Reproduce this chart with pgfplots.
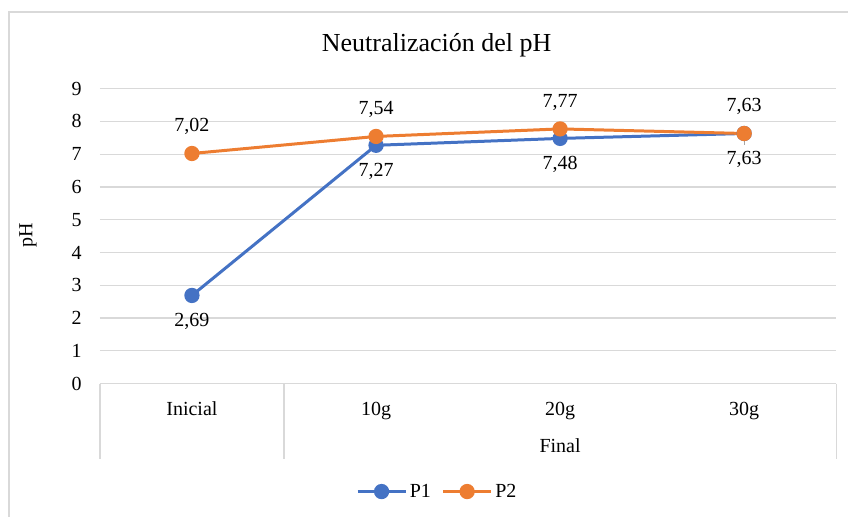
\documentclass[border=0pt]{standalone}
\usepackage{pgfplots}
\pgfplotsset{compat=1.18}
\usepackage{fontspec}
\setmainfont{Liberation Serif}
\definecolor{pone}{HTML}{4472C4}
\definecolor{ptwo}{HTML}{ED7D31}
\definecolor{gridc}{HTML}{D9D9D9}
\definecolor{leader}{HTML}{A6A6A6}
\newcommand{\lblfont}{\fontsize{15}{18}\selectfont}
\begin{document}
\begin{tikzpicture}[x=0.75pt,y=0.75pt]
\path (0,0) rectangle (849,517);
\draw[gridc, line width=1.2pt] (9,0) -- (9,505) -- (849,505);
\node[font=\fontsize{19.5}{23}\selectfont] at (437,472) {Neutralización del pH};
\node[rotate=90, font=\lblfont] at (28,281) {pH};
\begin{axis}[
  at={(75pt,99.75pt)}, anchor=south west,
  scale only axis, width=552.75pt, height=221.5pt,
  xmin=-0.5, xmax=3.5, ymin=0, ymax=9,
  xtick={0,1,2,3}, xticklabels={Inicial,10g,20g,30g},
  ytick={0,1,...,9},
  /pgf/number format/assume math mode=true,
  axis x line*=bottom, axis y line*=left,
  y axis line style={draw=none},
  x axis line style={gridc, line width=0.9pt},
  ymajorgrids, grid style={gridc, line width=0.9pt},
  major tick length=0pt, tick style={draw=none},
  ticklabel style={font=\lblfont},
  yticklabel style={anchor=east, inner sep=0pt, xshift=-13.5pt},
  xticklabel style={anchor=base, yshift=-23.6pt},
  clip=false,
  legend style={at={(0.4586,-0.3657)}, anchor=center, draw=none, fill=none,
    legend columns=2, font=\lblfont,
    /tikz/every even column/.append style={column sep=6pt}},
  legend image code/.code={\draw[mark repeat=2,mark phase=2] plot coordinates {(0cm,0cm) (0.635cm,0cm) (1.27cm,0cm)};},
  nodes near coords={\pgfmathprintnumber[fixed,fixed zerofill,precision=2,use comma,assume math mode=true]{\pgfplotspointmeta}},
  every node near coord/.append style={font=\lblfont, text=black, anchor=center},
]
\draw[leader, line width=1pt] (axis cs:3,7.63) -- ([yshift=-9pt]axis cs:3,7.63);
\addplot[pone, line width=2.25pt, mark=*, mark size=4.6pt, mark options={fill=pone, draw=pone},
  every node near coord/.append style={yshift=-19.5pt}]
  coordinates {(0,2.69) (1,7.27) (2,7.48) (3,7.63)};
\addlegendentry{P1}
\addplot[ptwo, line width=2.25pt, mark=*, mark size=4.6pt, mark options={fill=ptwo, draw=ptwo},
  every node near coord/.append style={yshift=20pt}]
  coordinates {(0,7.02) (1,7.54) (2,7.77) (3,7.63)};
\addlegendentry{P2}
\draw[gridc, line width=0.9pt] (axis cs:-0.5,0) -- ([yshift=-56.25pt]axis cs:-0.5,0);
\draw[gridc, line width=0.9pt] (axis cs:0.5,0) -- ([yshift=-56.25pt]axis cs:0.5,0);
\draw[gridc, line width=0.9pt] (axis cs:3.5,0) -- ([yshift=-56.25pt]axis cs:3.5,0);
\node[anchor=base, yshift=-51.75pt, font=\lblfont] at (axis cs:2,0) {Final};
\end{axis}
\end{tikzpicture}
\end{document}
